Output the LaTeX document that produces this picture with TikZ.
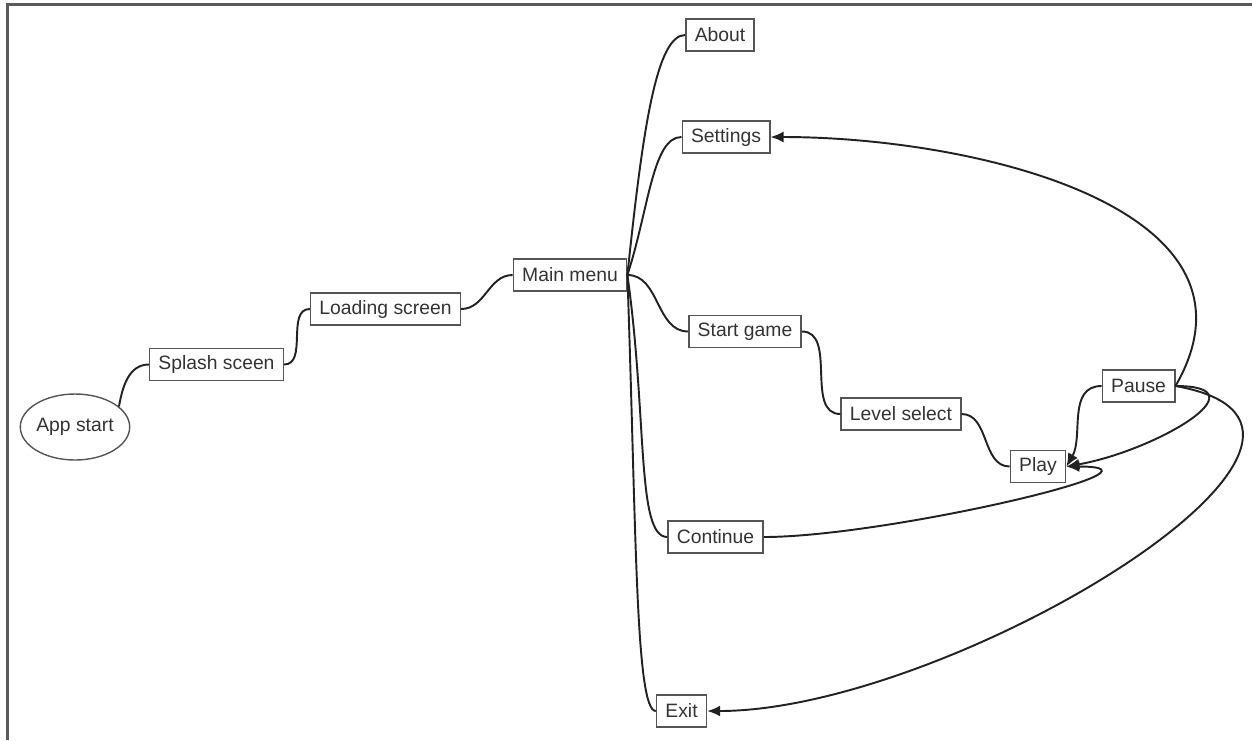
\documentclass[tikz,border=0pt]{standalone}
\usepackage{fontspec}
\setmainfont{Liberation Sans}
\usetikzlibrary{arrows.meta, shapes.geometric}

\definecolor{framegray}{HTML}{5A5A5A}
\definecolor{boxgray}{HTML}{555555}
\definecolor{linedark}{HTML}{222222}
\definecolor{textdark}{HTML}{333333}

\begin{document}
\begin{tikzpicture}[
  screenbox/.style={draw=boxgray, line width=0.9pt, minimum height=0.64cm, inner xsep=5pt, font=\fontsize{11}{13}\selectfont, text=textdark},
  startnode/.style={draw=boxgray, line width=0.8pt, ellipse, minimum width=2.12cm, minimum height=1.32cm, inner sep=0pt, font=\fontsize{11}{13}\selectfont, text=textdark},
  link/.style={line width=1.1pt, draw=linedark},
  backlink/.style={link, -{Latex[length=2.6mm, width=2.2mm]}},
]
\useasboundingbox (0,0) rectangle (25.04,-14.8);

% frame
\draw[framegray, line width=1.2pt] (25.04,-0.09) -- (0.15,-0.09) -- (0.15,-14.8);

% screens
\node[startnode] (app) at (1.50, -8.54) {App start};
\node[screenbox] (splash) at (4.33, -7.29) {Splash sceen};
\node[screenbox] (loading) at (7.71, -6.18) {Loading screen};
\node[screenbox] (mm) at (11.40, -5.50) {Main menu};
\node[screenbox] (about) at (14.40, -0.70) {About};
\node[screenbox] (settings) at (14.52, -2.74) {Settings};
\node[screenbox] (start) at (14.90, -6.63) {Start game};
\node[screenbox] (level) at (18.02, -8.28) {Level select};
\node[screenbox] (play) at (20.76, -9.33) {Play};
\node[screenbox] (pause) at (22.77, -7.72) {Pause};
\node[screenbox] (cont) at (14.31, -10.74) {Continue};
\node[screenbox] (exit) at (13.63, -14.22) {Exit};

% forward flow
\draw[link] (app.25) to[out=80, in=180] (splash.west);
\foreach \a/\b in {splash/loading, loading/mm, mm/start, start/level, level/play} {
  \draw[link] (\a.east) to[out=0, in=180] (\b.west);
}

% main menu branches
\foreach \b/\o/\lo/\li in {about/84/1.5/0.3, settings/72/1.2/0.5, cont/-82/1.4/0.3, exit/-88/1.5/0.12} {
  \draw[link] (mm.east) to[out=\o, in=180, out looseness=\lo, in looseness=\li] (\b.west);
}

% back to play / menus
\draw[backlink] (pause.west) to[out=180, in=60] (play.east);
\draw[backlink] (pause.east) to[out=0, in=10, looseness=1.7] (play.east);
\draw[backlink] (cont.east) to[out=0, in=0] (play.east);
\draw[backlink] (pause.east) to[out=60, in=0, looseness=1.1] (settings.east);
\draw[backlink] (pause.east) to[out=-10, in=0, looseness=1.1] (exit.east);

\end{tikzpicture}
\end{document}
